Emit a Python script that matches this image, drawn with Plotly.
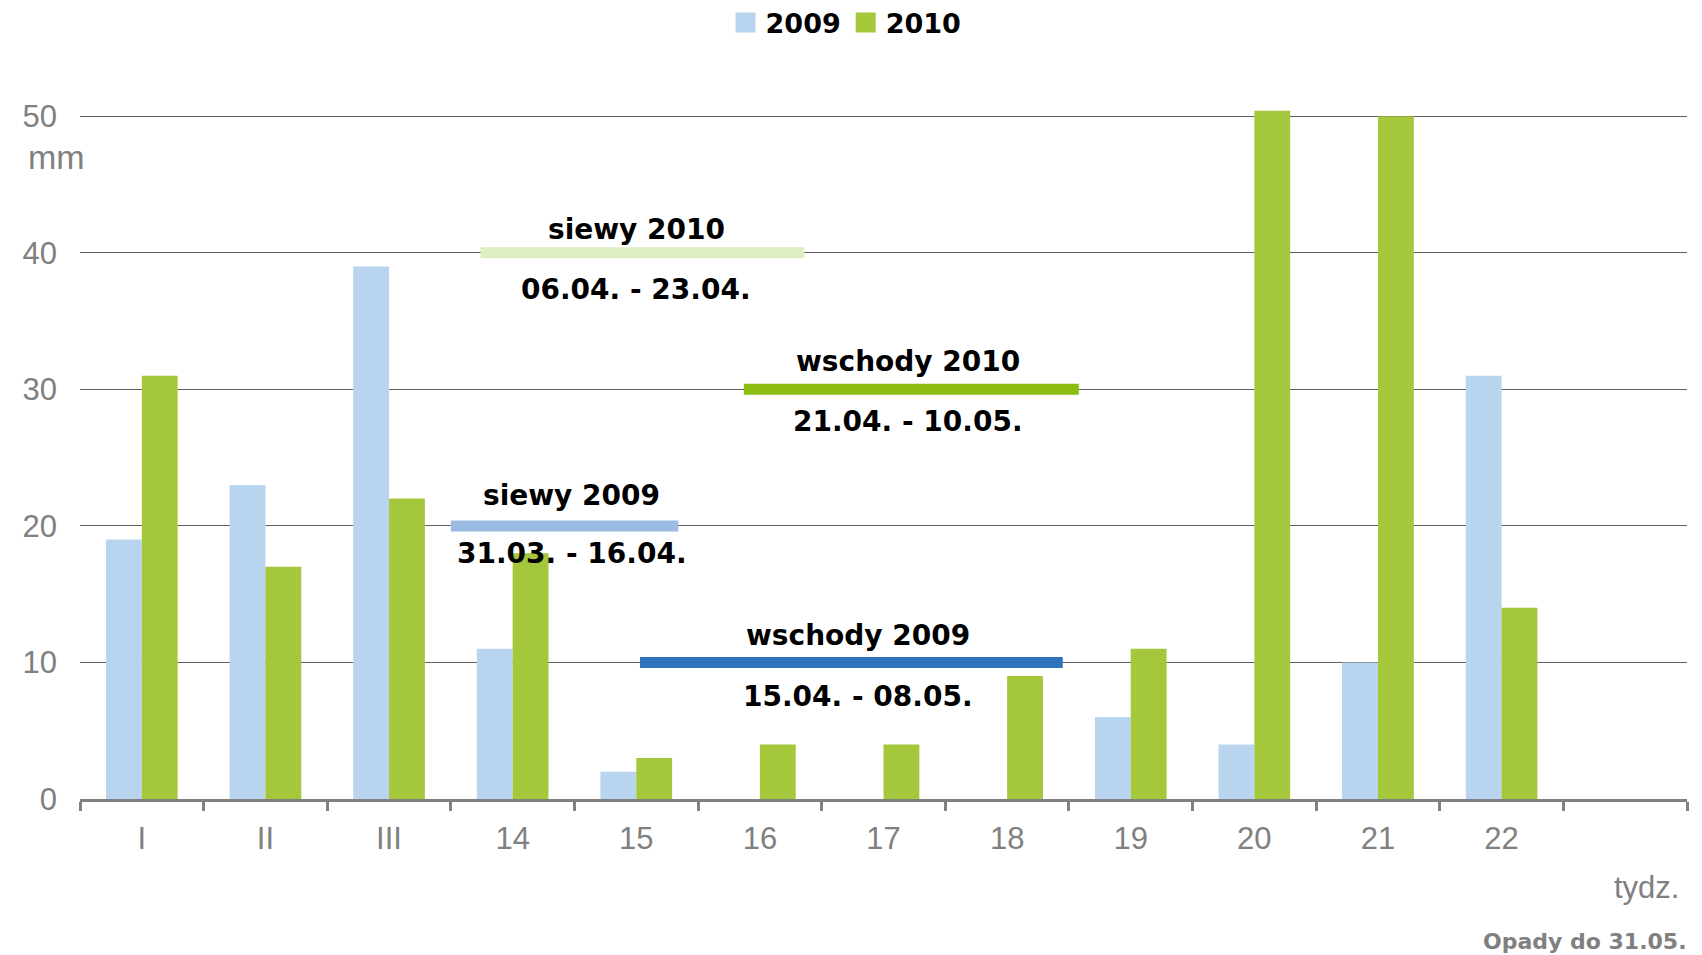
import plotly.graph_objects as go

# ---- data ----
weeks = ["I", "II", "III", "14", "15", "16", "17", "18", "19", "20", "21", "22", " "]
opady_2009 = [19, 23, 39, 11, 2, 0, 0, 0, 6, 4, 10, 31, None]
opady_2010 = [31, 17, 22, 18, 3, 4, 4, 9, 11, 50.4, 50, 14, None]
y_ticks = [0, 10, 20, 30, 40, 50]

phase_titles = ["siewy 2010", "wschody 2010", "siewy 2009", "wschody 2009"]
phase_dates = ["06.04. - 23.04.", "21.04. - 10.05.", "31.03. - 16.04.", "15.04. - 08.05."]
phase_level = [40, 30, 20, 10]
phase_start = [2.74, 4.87, 2.50, 4.03]
phase_end = [5.36, 7.58, 4.34, 7.45]
phase_text_x = [4.0, 6.2, 3.48, 5.79]

# ---- style ----
C2009 = "#b9d4ee"
C2010 = "#a4c73b"
phase_colors = ["#dfedc3", "#8cbd0f", "#9bbbe3", "#2e73bd"]
GRAY = "#808080"
BOLD = "DejaVu Sans"
REG = "Liberation Sans, Arial, sans-serif"

fig = go.Figure()
fig.add_trace(go.Bar(x=weeks, y=opady_2009, name="2009", marker=dict(color=C2009, line=dict(width=0)),
                     showlegend=False))
fig.add_trace(go.Bar(x=weeks, y=opady_2010, name="2010", marker=dict(color=C2010, line=dict(width=0)),
                     showlegend=False))
# legend entries with larger square symbols
for nm, col in (("2009", C2009), ("2010", C2010)):
    fig.add_trace(go.Scatter(x=[None], y=[None], mode="markers", name=nm,
                             marker=dict(symbol="square", size=16, color=col,
                                         line=dict(width=4, color=col))))

shapes = []
annotations = []
title_shift = [23, 28, 30, 27]
date_shift = [-37, -32, -28, -34]
for i in range(len(phase_titles)):
    shapes.append(dict(type="line", xref="x", yref="y", x0=phase_start[i], x1=phase_end[i],
                       y0=phase_level[i], y1=phase_level[i],
                       line=dict(color=phase_colors[i], width=11), layer="above"))
    annotations.append(dict(x=phase_text_x[i], y=phase_level[i], xref="x", yref="y", text=phase_titles[i],
                            showarrow=False, yshift=title_shift[i], xanchor="center", yanchor="middle",
                            font=dict(family=BOLD, size=28, color="black", weight="bold")))
    annotations.append(dict(x=phase_text_x[i], y=phase_level[i], xref="x", yref="y", text=phase_dates[i],
                            showarrow=False, yshift=date_shift[i], xanchor="center", yanchor="middle",
                            font=dict(family=BOLD, size=28, color="black", weight="bold")))

annotations.append(dict(x=-24 / 1607, y=47.0, xref="paper", yref="y", text="mm", showarrow=False,
                        xanchor="center", yanchor="middle",
                        font=dict(family=REG, size=34, color=GRAY)))
annotations.append(dict(x=0.9965, y=-0.1185, xref="paper", yref="paper", text="tydz.",
                        showarrow=False, xanchor="right", yanchor="middle",
                        font=dict(family=REG, size=31, color=GRAY)))
annotations.append(dict(x=1.0014, y=-0.1893, xref="paper", yref="paper", text="Opady do 31.05.",
                        showarrow=False, xanchor="right", yanchor="middle",
                        font=dict(family=BOLD, size=22, color=GRAY, weight="bold")))

fig.update_layout(
    width=1702, height=955,
    margin=dict(l=72, r=23, t=40, b=164, pad=0, autoexpand=False),
    paper_bgcolor="white", plot_bgcolor="white",
    barmode="group", bargap=0.42, bargroupgap=0,
    showlegend=True,
    legend=dict(orientation="h", xref="paper", yref="paper", x=0.4767, xanchor="center",
                y=1.0333, yanchor="middle",
                font=dict(family=BOLD, size=27, color="black", weight="bold"),
                bgcolor="rgba(0,0,0,0)", itemclick=False),
    shapes=shapes, annotations=annotations,
    xaxis=dict(type="category", categoryorder="array", categoryarray=weeks,
               range=[-0.5, len(weeks) - 0.5], automargin=False,
               showline=True, linecolor=GRAY, linewidth=3,
               ticks="outside", tickson="boundaries", ticklen=9, tickwidth=3, tickcolor=GRAY,
               showgrid=False, zeroline=False,
               tickfont=dict(family=REG, size=31, color=GRAY), ticklabelstandoff=10),
    yaxis=dict(range=[0, 55], tickvals=y_ticks, showline=False, zeroline=False, automargin=False,
               showgrid=True, gridcolor="#5e5e5e", gridwidth=1.3,
               ticks="", tickfont=dict(family=REG, size=31, color=GRAY), ticklabelstandoff=22),
)

fig.write_html("out.html")
